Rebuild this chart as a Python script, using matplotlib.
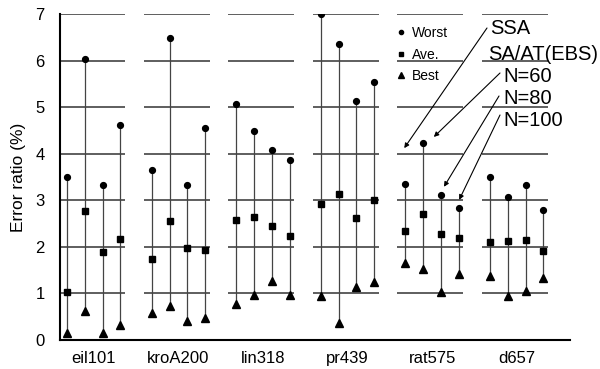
import matplotlib
matplotlib.use('Agg')
from matplotlib import pyplot as plt
from matplotlib.lines import Line2D

plt.rcParams['font.family'] = ['Liberation Sans', 'DejaVu Sans']

instances = ['eil101', 'kroA200', 'lin318', 'pr439', 'rat575', 'd657']
methods = ['SSA', 'N=60', 'N=80', 'N=100']

# per instance: values for SSA, N=60, N=80, N=100
worst = [[3.51, 6.03, 3.33, 4.61],
         [3.64, 6.49, 3.33, 4.55],
         [5.07, 4.49, 4.09, 3.87],
         [7.00, 6.35, 5.13, 5.53],
         [3.34, 4.24, 3.11, 2.83],
         [3.51, 3.06, 3.33, 2.79]]
ave = [[1.04, 2.76, 1.88, 2.16],
       [1.75, 2.56, 1.98, 1.93],
       [2.58, 2.65, 2.45, 2.23],
       [2.92, 3.13, 2.63, 3.01],
       [2.35, 2.70, 2.27, 2.18],
       [2.10, 2.13, 2.15, 1.92]]
best = [[0.15, 0.63, 0.15, 0.32],
        [0.57, 0.73, 0.41, 0.47],
        [0.77, 0.97, 1.27, 0.97],
        [0.94, 0.37, 1.13, 1.25],
        [1.66, 1.52, 1.02, 1.42],
        [1.37, 0.95, 1.05, 1.34]]

offsets = [-0.315, -0.105, 0.105, 0.315]

fig = plt.figure(figsize=(6, 3.69), dpi=100)
ax = fig.add_axes([60 / 600, 29 / 369, 510 / 600, 326 / 369])
ax.set_xlim(-0.40, 5.63)
ax.set_ylim(0, 7)

# grid segments, one block per instance
for i in range(len(instances)):
    ax.hlines(range(1, 8), i - 0.41, i + 0.37, color='#333333', lw=1.1, zorder=1)

for i in range(len(instances)):
    for j in range(len(methods)):
        x = i + offsets[j]
        ax.vlines(x, best[i][j], worst[i][j], color='#444444', lw=0.9, zorder=2)
        ax.plot(x, worst[i][j], 'o', color='black', ms=4.2, zorder=3)
        ax.plot(x, ave[i][j], 's', color='black', ms=4.4, zorder=3)
        ax.plot(x, best[i][j], '^', color='black', ms=5.2, zorder=3)

ax.set_xticks(range(len(instances)))
ax.set_xticklabels(instances, fontsize=12)
ax.set_yticks(range(0, 8))
ax.tick_params(axis='y', length=0, pad=11, labelsize=12)
ax.tick_params(axis='x', length=0, pad=8)
ax.set_ylabel('Error ratio (%)', fontsize=12.5, labelpad=7)
for s in ['top', 'right']:
    ax.spines[s].set_visible(False)
ax.spines['left'].set_linewidth(1.5)
ax.spines['bottom'].set_linewidth(1.5)

handles = [Line2D([], [], marker='o', ls='', color='black', ms=3.0),
           Line2D([], [], marker='s', ls='', color='black', ms=3.4),
           Line2D([], [], marker='^', ls='', color='black', ms=4.0)]
ax.legend(handles, ['Worst', 'Ave.', 'Best'], loc='upper left',
          bbox_to_anchor=(397 / 600, 1 - 26 / 369), bbox_transform=fig.transFigure,
          frameon=False, fontsize=10, handlelength=0.6, handletextpad=0.5,
          labelspacing=0.55, borderpad=0, borderaxespad=0)

labels = ['SSA', 'SA/AT(EBS)', 'N=60', 'N=80', 'N=100']
label_x = [490, 488, 503, 503, 503]
label_y = [29, 54, 76, 98, 120]
for t, lx, ly in zip(labels, label_x, label_y):
    fig.text(lx / 600, 1 - ly / 369, t, fontsize=14.5, va='center', ha='left')

# arrows from the labels to the rat575 columns
arrow_from = [(487, 28), (500, 73), (499, 96), (500, 115)]
arrow_to = [(4 - 0.33, 4.12), (4 + 0.02, 4.36), (4 + 0.14, 3.29), (4 + 0.32, 3.01)]
for (fx, fy), (tx, ty) in zip(arrow_from, arrow_to):
    ax.annotate('', xy=(tx, ty), xytext=(fx / 600, 1 - fy / 369),
                textcoords='figure fraction',
                arrowprops=dict(arrowstyle='-|>', color='black', lw=0.8,
                                mutation_scale=7, shrinkA=0, shrinkB=0))

fig.savefig('out.png', dpi=100)
